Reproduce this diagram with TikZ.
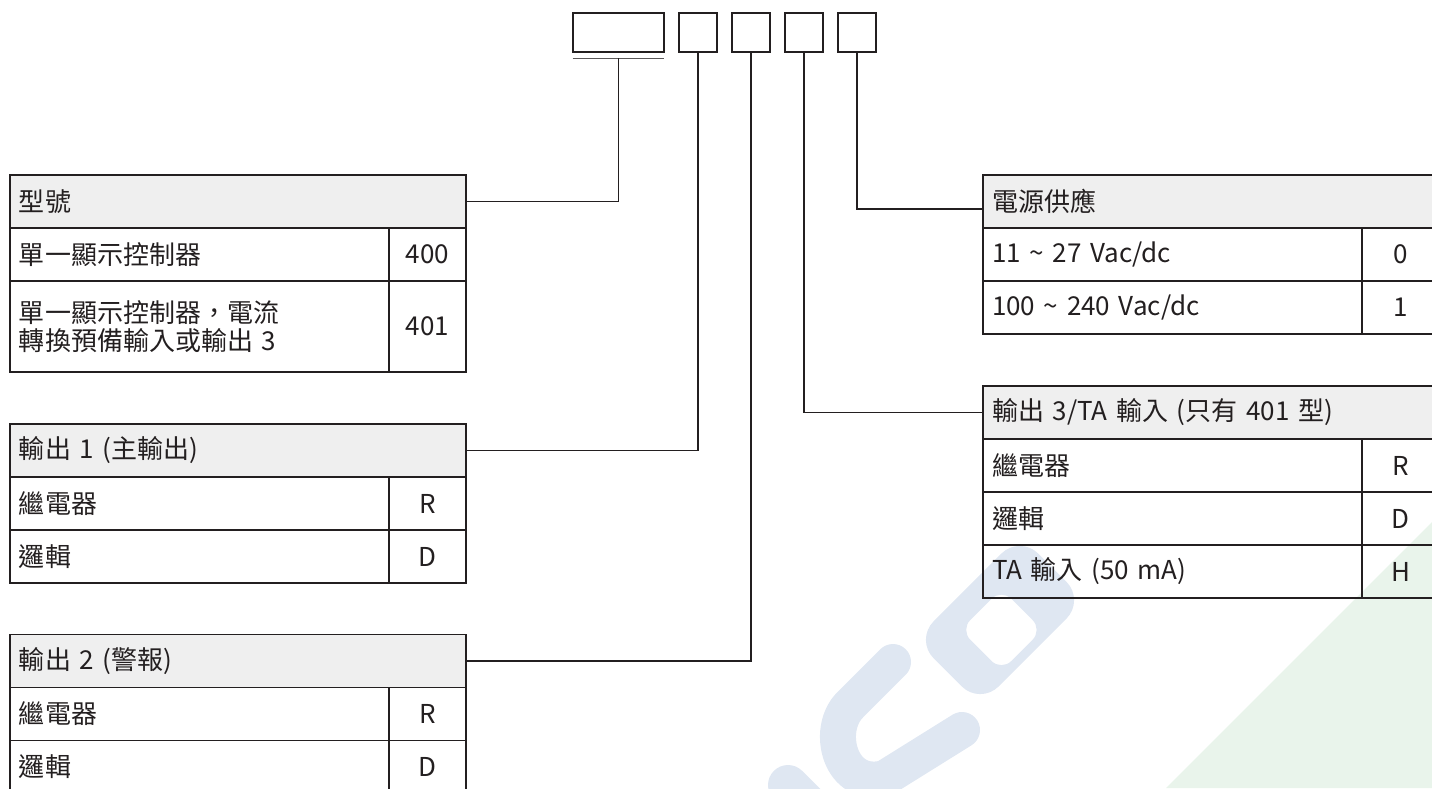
\documentclass[tikz,border=0pt]{standalone}
\usepackage{fontspec}
\setmainfont[WordSpace=0.85]{Noto Sans CJK TC}
\usetikzlibrary{positioning,calc}
\definecolor{ink}{HTML}{231F20}
\definecolor{hdrgray}{HTML}{EFEFEF}
\definecolor{wmblue}{HTML}{DFE7F2}
\definecolor{wmgreen}{HTML}{E9F4EB}

\begin{document}
\begin{tikzpicture}[x=1pt,y=-1pt,font=\fontsize{26}{28.5}\selectfont,
  cell/.style={draw=ink,line width=1.4pt,outer sep=0pt,inner xsep=9pt,inner ysep=0pt,minimum height=53pt,text=ink},
  hdrcell/.style={cell,fill=hdrgray,text width=438pt,align=left},
  lblcell/.style={cell,text width=361pt,align=left},
  valcell/.style={cell,minimum width=77pt,inner xsep=0pt,align=center},
  codebox/.style={draw=ink,line width=2pt,outer sep=0pt,inner sep=0pt,minimum height=38.7pt},
  link/.style={ink,line width=1.4pt}]
\useasboundingbox (0,0) rectangle (1432,788);
\clip (0,0) rectangle (1432,788);
\fill[wmgreen] (1166,788) -- (1432,522) -- (1432,788) -- cycle;
\begin{scope}[shift={(1000,620)},rotate=45]
\fill[wmblue,even odd rule,rounded corners=26pt] (-74,-46) rectangle (74,46) {[rounded corners=14pt] (-35,-21) rectangle (23,37)};
\end{scope}
\draw[wmblue,line width=36pt,line cap=round] (893,662) -- (850,705) .. controls (825,730) and (840,790) .. (885,778) -- (962,730);
\draw[wmblue,line width=40pt,line cap=round] (788,785) -- (840,837);
\node[codebox,minimum width=91.3pt,anchor=north west] (mdl) at (572.7,13.3) {};
\foreach \i in {1,...,4}{\node[codebox,minimum width=38.3pt,anchor=north west] (b\i) at ({678.7+53*(\i-1)},13.3) {};}
\draw[ink!75,line width=1.3pt] ($(mdl.south west)+(0,6.3)$) -- ($(mdl.south east)+(0,6.3)$);
\coordinate (ul) at ($(mdl.south)+(0,6.3)$);
\node[hdrcell,anchor=north west] (typ) at (10,175) {型號};
\node[lblcell,below right=0pt and 0pt of typ.south west] (typa) {單一顯示控制器};
\node[valcell,right=0pt of typa] (typav) {400};
\node[lblcell,minimum height=91pt,below=0pt of typa] (typb) {單一顯示控制器，電流\\轉換預備輸入或輸出 3};
\node[valcell,minimum height=91pt,right=0pt of typb] (typbv) {401};
\node[hdrcell,anchor=north west] (oa) at (10,424) {輸出 1 (主輸出)};
\node[hdrcell,anchor=north west] (ob) at (10,634.3) {輸出 2 (警報)};
\node[hdrcell,anchor=north west] (oc) at (983,386) {輸出 3/TA 輸入 (只有 401 型)};
\foreach \tb in {oa,ob,oc}{
  \node[lblcell,below right=0pt and 0pt of \tb.south west] (\tb1) {繼電器};
  \node[valcell,right=0pt of \tb1] (\tb1v) {R};
  \node[lblcell,below=0pt of \tb1] (\tb2) {邏輯};
  \node[valcell,right=0pt of \tb2] (\tb2v) {D};}
\node[lblcell,below=0pt of oc2] (oc3) {TA 輸入 (50 mA)};
\node[valcell,right=0pt of oc3] (oc3v) {H};
\node[hdrcell,anchor=north west] (pw) at (983,175) {電源供應};
\node[lblcell,below right=0pt and 0pt of pw.south west] (pw1) {11 \textasciitilde{} 27 Vac/dc};
\node[valcell,right=0pt of pw1] (pw1v) {0};
\node[lblcell,below=0pt of pw1] (pw2) {100 \textasciitilde{} 240 Vac/dc};
\node[valcell,right=0pt of pw2] (pw2v) {1};
\draw[link] (typ.east) -| (ul);
\draw[link] (oa.east) -| (b1.south);
\draw[link] (ob.east) -| (b2.south);
\draw[link] (oc.west) -| (b3.south);
\draw[link] ($(pw.west)+(0,7.6)$) -| (b4.south);
\end{tikzpicture}
\end{document}
